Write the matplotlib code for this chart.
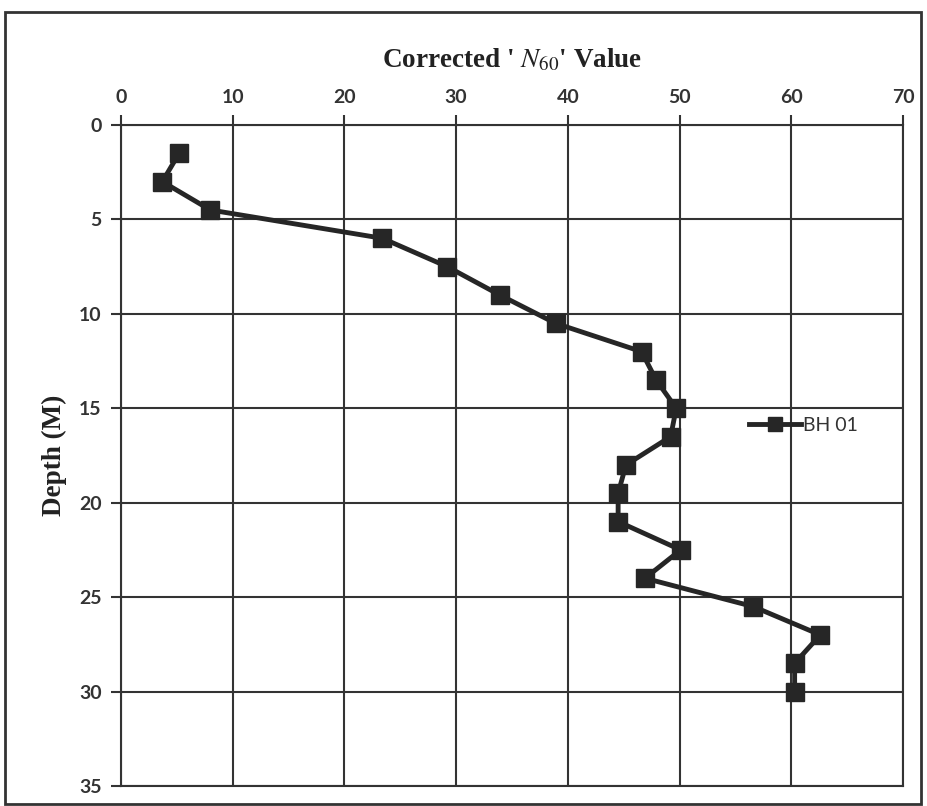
import matplotlib
matplotlib.use("Agg")
import matplotlib.pyplot as plt
from matplotlib.patches import Rectangle

# Data
depth = [1.5, 3.0, 4.5, 6.0, 7.5, 9.0, 10.5, 12.0, 13.5, 15.0, 16.5, 18.0,
         19.5, 21.0, 22.5, 24.0, 25.5, 27.0, 28.5, 30.0]
n60 = [5.2, 3.7, 8.0, 23.4, 29.2, 33.9, 38.9, 46.6, 47.9, 49.7, 49.2, 45.2,
       44.5, 44.5, 50.1, 46.9, 56.6, 62.6, 60.3, 60.3]
series_name = "BH 01"
x_ticks = [0, 10, 20, 30, 40, 50, 60, 70]
y_ticks = [0, 5, 10, 15, 20, 25, 30, 35]

plt.rcParams['mathtext.fontset'] = 'stix'

W, H = 927, 806
fig = plt.figure(figsize=(W / 100, H / 100), dpi=100)
fig.patch.set_facecolor('white')
ax = fig.add_axes([121 / W, 1 - 786 / H, (903 - 121) / W, (786 - 125) / H])

ink = '#262626'
ax.plot(n60, depth, color=ink, lw=3.5, marker='s', markersize=12.5,
        markerfacecolor=ink, markeredgecolor=ink, label=series_name, zorder=3)

ax.set_xlim(0, 70)
ax.set_ylim(35, 0)
ax.set_xticks(x_ticks)
ax.set_yticks(y_ticks)
ax.xaxis.tick_top()
ax.xaxis.set_label_position('top')
ax.grid(True, color='#333333', lw=1.5)
ax.set_axisbelow(True)
for s in ax.spines.values():
    s.set_color('#333333')
    s.set_linewidth(1.5)
ax.tick_params(axis='both', direction='out', length=7, width=1.5, color='#333333',
               labelsize=14, labelcolor='#333333', pad=7)
for lab in ax.get_xticklabels() + ax.get_yticklabels():
    lab.set_fontfamily('Lato')
    lab.set_fontweight('bold')

ax.set_xlabel(r"Corrected ' $\mathit{N}_{60}$' Value", fontfamily='Liberation Serif',
              fontweight='bold', fontsize=19.5, color='#222222', labelpad=15)
ax.set_ylabel("Depth (M)", fontfamily='Liberation Serif', fontweight='bold',
              fontsize=19.5, color='#222222')
ax.yaxis.set_label_coords((67 - 121) / 782, 0.5)

leg = ax.legend(loc='center left', bbox_to_anchor=(0.793, 0.546), frameon=False,
                prop={'family': 'Lato', 'size': 14}, handlelength=2.7,
                handletextpad=0.1, borderaxespad=0, markerscale=0.8)
for t in leg.get_texts():
    t.set_color('#333333')

# outer frame of the scanned chart
fig.patches.append(Rectangle((5 / W, 1 - 804 / H), (921 - 5) / W, (804 - 12) / H,
                             transform=fig.transFigure, fill=False,
                             edgecolor='#333333', lw=2))

fig.savefig('out.png', dpi=100)
